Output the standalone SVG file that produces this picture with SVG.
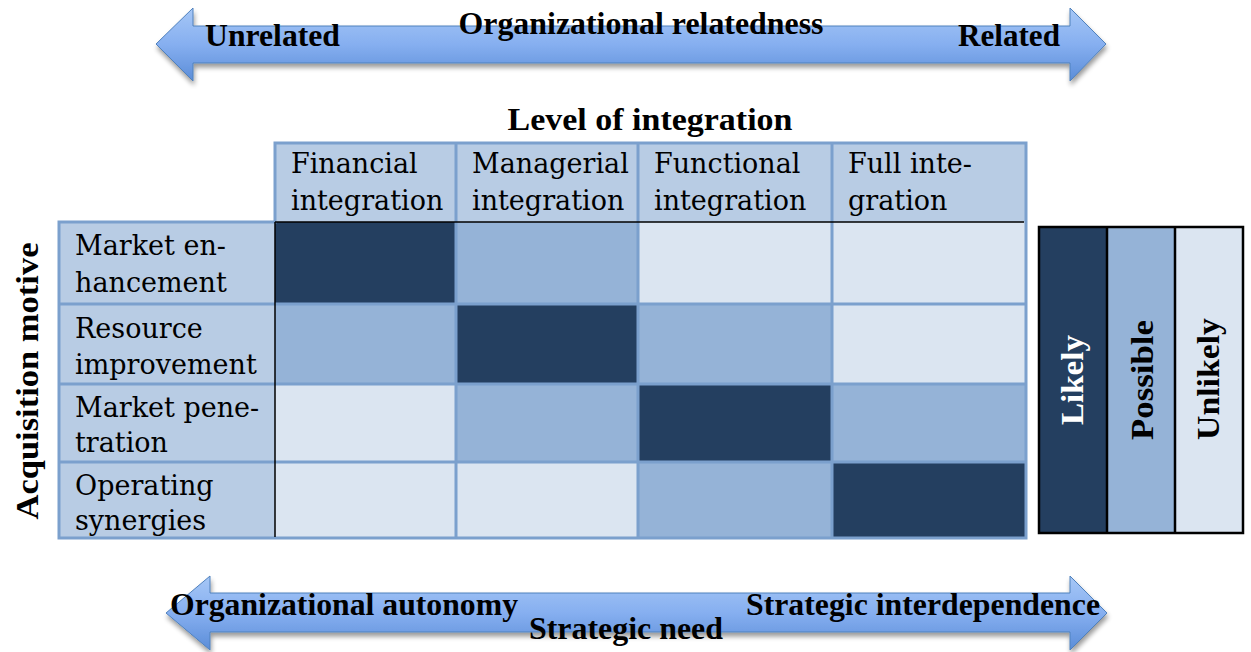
<svg xmlns="http://www.w3.org/2000/svg" width="1251" height="652" viewBox="0 0 1251 652">
<defs>
<linearGradient id="arrowGrad" x1="0" y1="0" x2="0" y2="1">
<stop offset="0" stop-color="#a6c7f6"/>
<stop offset="0.5" stop-color="#86aff0"/>
<stop offset="1" stop-color="#5b8dd8"/>
</linearGradient>
<filter id="shadow" x="-5%" y="-30%" width="110%" height="170%">
<feGaussianBlur in="SourceAlpha" stdDeviation="2.5"/>
<feOffset dx="1" dy="4" result="b"/>
<feComponentTransfer><feFuncA type="linear" slope="0.4"/></feComponentTransfer>
<feMerge><feMergeNode/><feMergeNode in="SourceGraphic"/></feMerge>
</filter>
</defs>
<style>
.arrow{fill:url(#arrowGrad);stroke:#4f81bd;stroke-width:1;filter:url(#shadow)}
.btxt{font-family:"Liberation Serif","Times New Roman",serif;font-weight:bold;font-size:31px;fill:#000}
.ctxt{font-family:"DejaVu Serif","Liberation Serif",serif;font-size:27px;fill:#000}
.hdr{fill:#b8cce4}
.dark{fill:#243f60}
.med{fill:#95b3d7}
.light{fill:#dbe5f1}
.grid{stroke:#7ba0cd;stroke-width:3;fill:none}
.blk{stroke:#000;stroke-width:1.5;fill:none}
.leg{stroke:#000;stroke-width:2.5;fill:none}
</style>

<g id="arrow-top">
<path class="arrow" d="M156,44 L193,8 L193,26 L1070,26 L1070,8 L1106,44 L1070,81 L1070,63 L193,63 L193,81 Z"/>
<text class="btxt" x="205" y="46" textLength="135" lengthAdjust="spacingAndGlyphs">Unrelated</text>
<text class="btxt" x="641" y="34" text-anchor="middle" textLength="365" lengthAdjust="spacingAndGlyphs">Organizational relatedness</text>
<text class="btxt" x="958" y="46" textLength="102" lengthAdjust="spacingAndGlyphs">Related</text>
</g>

<g id="arrow-bottom">
<path class="arrow" d="M166,613 L210,576 L210,593 L1070,593 L1070,576 L1107,613 L1070,650 L1070,632 L210,632 L210,650 Z"/>
<text class="btxt" x="170" y="615" textLength="348" lengthAdjust="spacingAndGlyphs">Organizational autonomy</text>
<text class="btxt" x="746" y="615" textLength="354" lengthAdjust="spacingAndGlyphs">Strategic interdependence</text>
<text class="btxt" x="626" y="639" text-anchor="middle" textLength="194" lengthAdjust="spacingAndGlyphs">Strategic need</text>
</g>

<g id="title-level">
<text class="btxt" x="650" y="130" text-anchor="middle" textLength="285" lengthAdjust="spacingAndGlyphs">Level of integration</text>
</g>

<g id="title-motive">
<text class="btxt" transform="translate(38,381) rotate(-90)" text-anchor="middle" textLength="277" lengthAdjust="spacingAndGlyphs">Acquisition motive</text>
</g>

<g id="matrix">
<rect class="hdr" x="275" y="143" width="751" height="79"/>
<rect class="hdr" x="59" y="222" width="216" height="316"/>
<rect class="dark" x="275" y="222" width="181" height="82"/>
<rect class="med" x="456" y="222" width="182" height="82"/>
<rect class="light" x="638" y="222" width="194" height="82"/>
<rect class="light" x="832" y="222" width="194" height="82"/>

<rect class="med" x="275" y="304" width="181" height="80"/>
<rect class="dark" x="456" y="304" width="182" height="80"/>
<rect class="med" x="638" y="304" width="194" height="80"/>
<rect class="light" x="832" y="304" width="194" height="80"/>

<rect class="light" x="275" y="384" width="181" height="78"/>
<rect class="med" x="456" y="384" width="182" height="78"/>
<rect class="dark" x="638" y="384" width="194" height="78"/>
<rect class="med" x="832" y="384" width="194" height="78"/>

<rect class="light" x="275" y="462" width="181" height="76"/>
<rect class="light" x="456" y="462" width="182" height="76"/>
<rect class="med" x="638" y="462" width="194" height="76"/>
<rect class="dark" x="832" y="462" width="194" height="76"/>

<path class="grid" d="M275,143 H1026 V538 H59 V222 H275 Z M456,143 V538 M638,143 V538 M832,143 V538 M59,304 H1026 M59,384 H1026 M59,462 H1026"/>
<path class="blk" d="M275,222 H1024 M275,222 V537"/>
</g>

<g id="header-cells">
<text class="ctxt" x="291" y="173">Financial</text>
<text class="ctxt" x="291" y="210">integration</text>
<text class="ctxt" x="472" y="173">Managerial</text>
<text class="ctxt" x="472" y="210">integration</text>
<text class="ctxt" x="654" y="173">Functional</text>
<text class="ctxt" x="654" y="210">integration</text>
<text class="ctxt" x="848" y="173">Full inte-</text>
<text class="ctxt" x="848" y="210">gration</text>
</g>

<g id="row-labels">
<text class="ctxt" x="75" y="255">Market en-</text>
<text class="ctxt" x="75" y="292">hancement</text>
<text class="ctxt" x="75" y="338">Resource</text>
<text class="ctxt" x="75" y="374">improvement</text>
<text class="ctxt" x="75" y="417">Market pene-</text>
<text class="ctxt" x="75" y="452">tration</text>
<text class="ctxt" x="75" y="495">Operating</text>
<text class="ctxt" x="75" y="530">synergies</text>
</g>

<g id="legend">
<rect class="dark" x="1039" y="227" width="68" height="306"/>
<rect class="med" x="1107" y="227" width="68" height="306"/>
<rect class="light" x="1175" y="227" width="68" height="306"/>
<path class="leg" d="M1039,227 H1243 V533 H1039 Z M1107,227 V533 M1175,227 V533"/>
<text class="btxt" transform="translate(1083,380) rotate(-90)" text-anchor="middle" style="fill:#fff" textLength="90" lengthAdjust="spacingAndGlyphs">Likely</text>
<text class="btxt" transform="translate(1153,380) rotate(-90)" text-anchor="middle" textLength="120" lengthAdjust="spacingAndGlyphs">Possible</text>
<text class="btxt" transform="translate(1219,379) rotate(-90)" text-anchor="middle" textLength="122" lengthAdjust="spacingAndGlyphs">Unlikely</text>
</g>
</svg>
